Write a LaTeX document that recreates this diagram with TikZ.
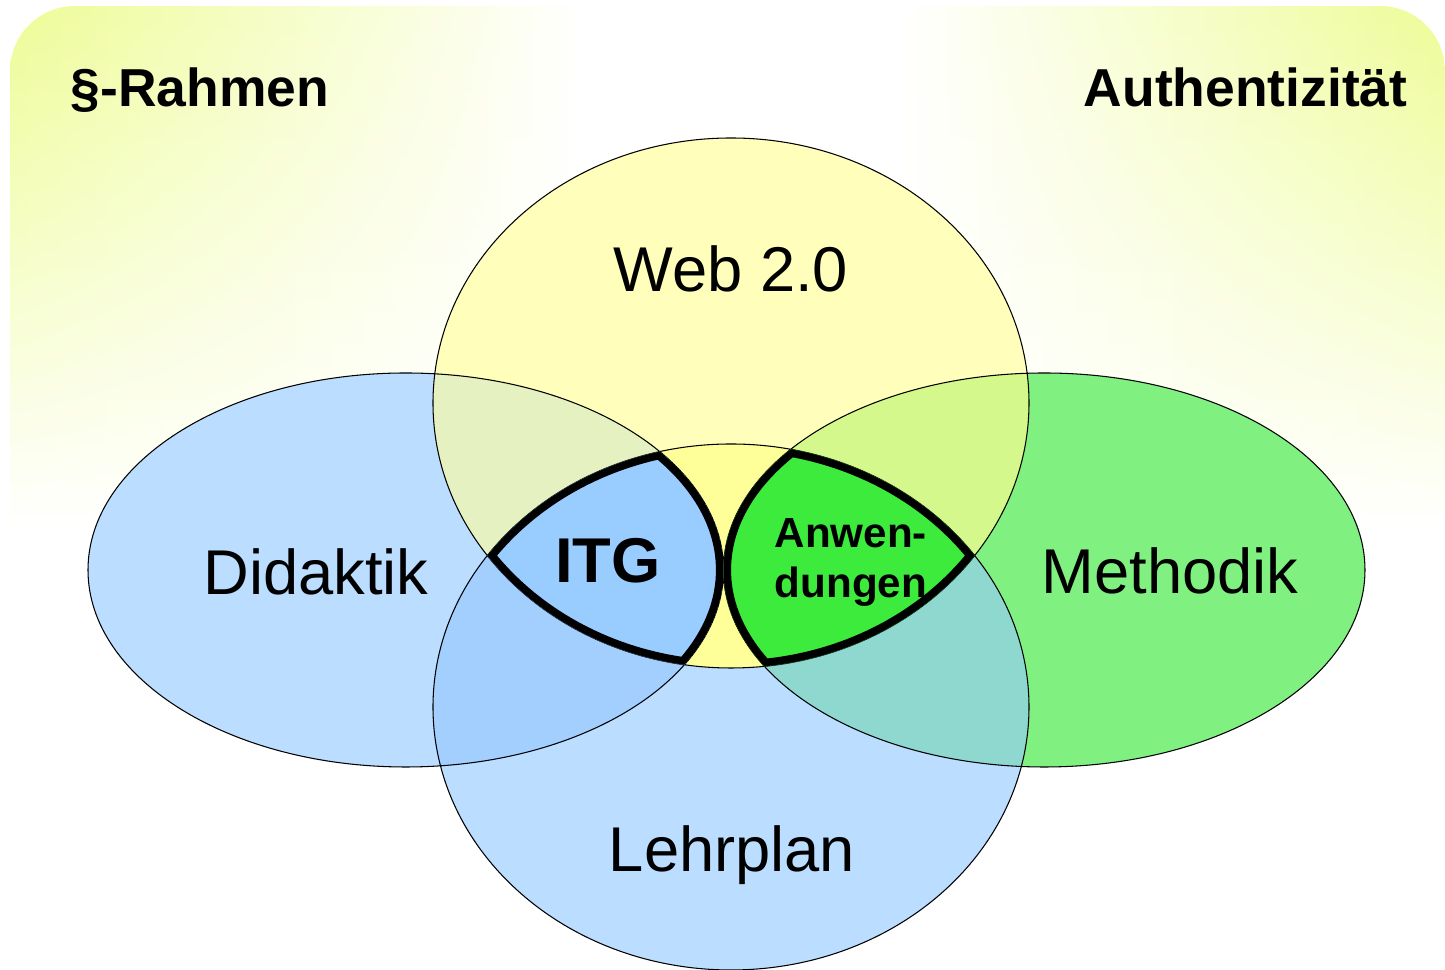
\documentclass[tikz,border=0pt]{standalone}
\usepackage{fontspec}
\setmainfont{Liberation Sans}
\usetikzlibrary{fadings}

\definecolor{bgyellow}{RGB}{238,252,150}
\definecolor{webyellow}{RGB}{255,255,187}
\definecolor{setblue}{RGB}{187,221,255}
\definecolor{methgreen}{RGB}{128,240,128}
\definecolor{webdid}{RGB}{229,241,192}
\definecolor{webmeth}{RGB}{212,248,140}
\definecolor{lehrdid}{RGB}{163,207,255}
\definecolor{lehrmeth}{RGB}{143,216,208}
\definecolor{coreyellow}{RGB}{255,255,153}
\definecolor{itgblue}{RGB}{153,204,255}
\definecolor{anwgreen}{RGB}{60,235,60}

\pgfdeclarehorizontalshading{glow}{100bp}{color(0bp)=(bgyellow); color(25bp)=(bgyellow); color(45bp)=(white); color(56bp)=(white); color(75bp)=(bgyellow); color(100bp)=(bgyellow)}
\tikzfading[name=fadedown, top color=transparent!0, bottom color=transparent!100]

\newcommand{\webset}{(7.31,5.67) ellipse [x radius=2.98, y radius=2.65]}
\newcommand{\lehrset}{(7.31,2.63) ellipse [x radius=2.98, y radius=2.63]}
\newcommand{\didset}{(4.0575,4.00) ellipse [x radius=3.1775, y radius=1.97]}
\newcommand{\methset}{(10.4425,4.00) ellipse [x radius=3.2075, y radius=1.97]}

\tikzset{
  outline/.style={draw=black, line width=0.3pt},
  lens/.style={draw=black, line width=4.3pt},
  setname/.style={anchor=base, inner sep=0pt, font=\fontsize{18}{21}\selectfont},
  corner/.style={inner sep=0pt, font=\bfseries\fontsize{15.2}{18}\selectfont}
}

\begin{document}
\begin{tikzpicture}
\useasboundingbox (0,0) rectangle (14.45,9.70);
\begin{scope}
\clip [rounded corners=0.65cm] (0.10,-1) rectangle (14.45,9.64);
\shade [shading=glow, path fading=fadedown] (0.10,4.40) rectangle (14.45,9.64);
\end{scope}
\fill [setblue] \didset;
\fill [methgreen] \methset;
\fill [webyellow] \webset;
\fill [setblue] \lehrset;
\begin{scope}
\clip \webset;
\fill [webdid] \didset;
\fill [webmeth] \methset;
\fill [coreyellow] \lehrset;
\end{scope}
\begin{scope}
\clip \lehrset;
\fill [lehrdid] \didset;
\fill [lehrmeth] \methset;
\end{scope}
\draw [outline] \didset \methset \webset \lehrset;
\begin{scope}
\clip \webset; \clip \lehrset; \clip \didset;
\fill [itgblue] \didset;
\draw [lens] \webset \lehrset \didset;
\end{scope}
\begin{scope}
\clip \webset; \clip \lehrset; \clip \methset;
\fill [anwgreen] \methset;
\draw [lens] \webset \lehrset \methset;
\end{scope}
\node (rahmen) [corner, anchor=base west] at (0.70,8.63) {§-Rahmen};
\node (authent) [corner, anchor=base east] at (14.08,8.63) {Authentizität};
\node (web) [setname] at (7.31,6.78) {Web 2.0};
\node (didaktik) [setname] at (3.16,3.75) {Didaktik};
\node (methodik) [setname] at (11.70,3.76) {Methodik};
\node (lehrplan) [setname] at (7.32,0.98) {Lehrplan};
\node (itg) [setname, font=\bfseries\fontsize{18}{21}\selectfont] at (6.08,3.87) {ITG};
\node (anw) [anchor=north west, align=left, inner sep=0pt, font=\bfseries\fontsize{12}{14.2}\selectfont] at (7.74,4.52) {Anwen-\\dungen};
\end{tikzpicture}
\end{document}
